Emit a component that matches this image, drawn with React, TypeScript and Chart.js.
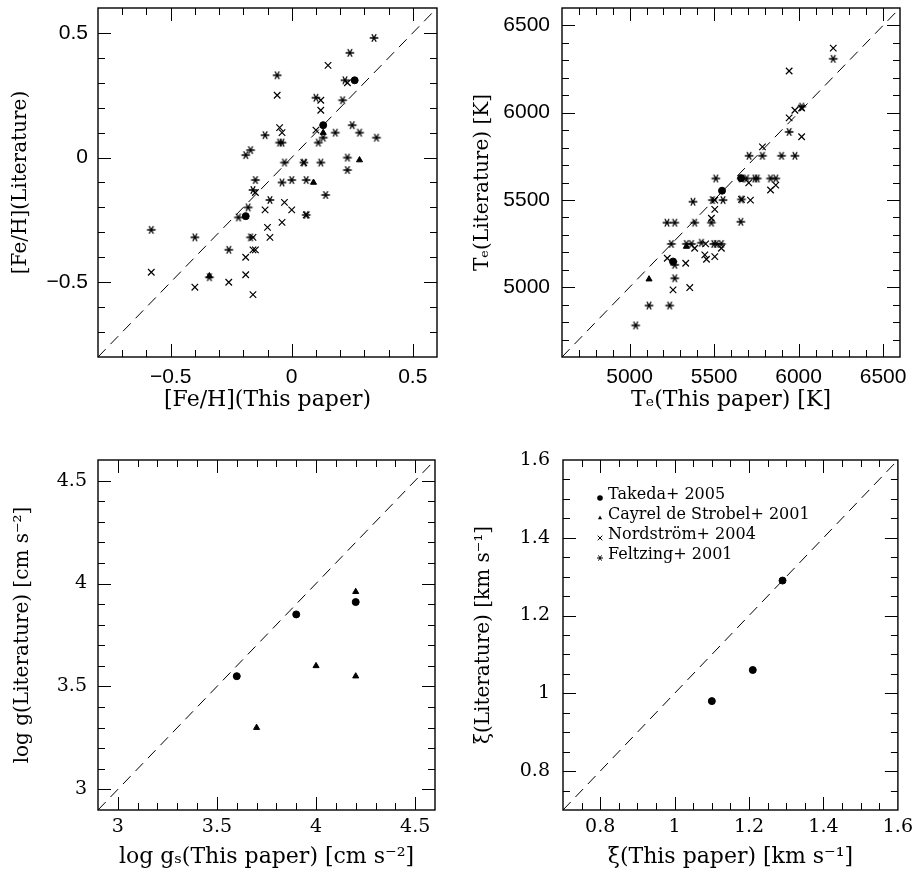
import React, { useEffect, useRef } from "react";
import { Chart, registerables } from "chart.js";
Chart.register(...registerables);

type Pt = [number, number];

// ---------- series names (legend) ----------
const seriesLabels = ["Takeda+ 2005", "Cayrel de Strobel+ 2001", "Nordström+ 2004", "Feltzing+ 2001"];

// ---------- Panel 1 : [Fe/H] ----------
const fehAxis = [-0.8, 0.6];
const fehSteps = [0.1, 0.5];
const fehTakeda: Pt[] = [[0.26, 0.31], [0.13, 0.13], [-0.19, -0.235]];
const fehCayrel: Pt[] = [[0.13, 0.10], [0.09, -0.10], [0.28, -0.01], [-0.34, -0.475]];
const fehNordstrom: Pt[] = [
  [0.15, 0.37], [0.23, 0.30], [-0.06, 0.25], [0.12, 0.23], [0.12, 0.19], [0.10, 0.11],
  [-0.05, 0.12], [-0.04, 0.10], [0.05, -0.02], [-0.15, -0.14], [-0.03, -0.18], [-0.11, -0.21],
  [0.0, -0.21], [-0.10, -0.28], [-0.04, -0.26], [-0.09, -0.32], [-0.16, -0.32], [-0.16, -0.37],
  [-0.15, -0.37], [-0.19, -0.40], [-0.58, -0.46], [-0.26, -0.50], [-0.19, -0.47], [-0.40, -0.52],
  [-0.16, -0.55], [0.06, -0.23],
];
const fehFeltzing: Pt[] = [
  [0.34, 0.48], [0.24, 0.42], [0.22, 0.31], [-0.06, 0.33], [0.10, 0.24], [0.21, 0.23],
  [0.13, 0.08], [0.11, 0.06], [0.18, 0.10], [0.25, 0.13], [0.28, 0.10], [0.35, 0.08],
  [-0.11, 0.09], [-0.05, 0.06], [-0.04, 0.06], [-0.19, 0.01], [-0.17, 0.03], [-0.03, -0.02],
  [0.05, -0.02], [0.12, -0.02], [0.23, 0.0], [0.23, -0.05], [-0.15, -0.09], [-0.04, -0.10],
  [0.0, -0.09], [0.06, -0.09], [-0.16, -0.13], [0.14, -0.15], [-0.09, -0.17], [-0.18, -0.20],
  [-0.22, -0.24], [0.06, -0.23], [-0.58, -0.29], [-0.40, -0.32], [-0.17, -0.32], [-0.26, -0.37],
  [-0.34, -0.48],
];

// ---------- Panel 2 : Teff ----------
const teffAxis = [4600, 6600];
const teffSteps = [100, 500];
const teffTakeda: Pt[] = [[5660, 5625], [5547, 5553], [5257, 5147]];
const teffCayrel: Pt[] = [[5336, 5233], [5115, 5046]];
const teffNordstrom: Pt[] = [
  [6205, 6370], [5944, 6239], [6018, 6027], [5978, 6014], [5944, 5970], [6018, 5862],
  [5786, 5804], [5705, 5598], [5865, 5585], [5834, 5557], [5504, 5499], [5662, 5503],
  [5715, 5499], [5504, 5446], [5484, 5395], [5385, 5223], [5450, 5248], [5543, 5223],
  [5445, 5185], [5455, 5160], [5504, 5175], [5223, 5166], [5332, 5137], [5257, 4985],
  [5356, 4998],
];
const teffFeltzing: Pt[] = [
  [6205, 6309], [6018, 6035], [5944, 5890], [5707, 5753], [5786, 5753], [5899, 5753],
  [5978, 5753], [5510, 5623], [5662, 5623], [5692, 5623], [5741, 5623], [5755, 5623],
  [5834, 5623], [5865, 5623], [5375, 5490], [5490, 5499], [5553, 5499], [5662, 5503],
  [5484, 5370], [5385, 5370], [5221, 5370], [5267, 5370], [5658, 5375], [5247, 5248],
  [5336, 5248], [5366, 5248], [5425, 5255], [5498, 5248], [5514, 5248], [5543, 5248],
  [5267, 5128], [5267, 5051], [5115, 4895], [5237, 4895], [5036, 4781],
];

// ---------- Panel 3 : log g ----------
const loggAxis = [2.9, 4.6];
const loggSteps = [0.1, 0.5];
const loggTakeda: Pt[] = [[3.6, 3.55], [3.9, 3.85], [4.2, 3.91]];
const loggCayrel: Pt[] = [[3.7, 3.3], [4.0, 3.6], [4.2, 3.55], [4.2, 3.96]];
const loggNordstrom: Pt[] = [];
const loggFeltzing: Pt[] = [];

// ---------- Panel 4 : microturbulence ----------
const xiAxis = [0.7, 1.6];
const xiSteps = [0.05, 0.2];
const xiTakeda: Pt[] = [[1.10, 0.98], [1.21, 1.06], [1.29, 1.29]];
const xiCayrel: Pt[] = [];
const xiNordstrom: Pt[] = [];
const xiFeltzing: Pt[] = [];

// ---------- helpers ----------
const SERIF = "'DejaVu Serif', serif";
const SANS = "'Liberation Sans', Arial, sans-serif";

function fmt(v: number): string {
  const r = Math.round(v * 1000) / 1000;
  return (r < 0 ? "\u2212" : "") + String(Math.abs(r));
}
function isMajor(v: number, major: number): boolean {
  const q = v / major;
  return Math.abs(q - Math.round(q)) < 1e-6;
}

function makeAsterisk(r: number, lw: number): HTMLCanvasElement {
  const size = Math.ceil(2 * r + lw + 2);
  const c = document.createElement("canvas");
  c.width = size;
  c.height = size;
  const g = c.getContext("2d")!;
  g.strokeStyle = "#000";
  g.lineWidth = lw;
  const cx = size / 2, cy = size / 2;
  g.beginPath();
  for (const a of [0, Math.PI / 3, -Math.PI / 3]) {
    const dx = r * Math.cos(a), dy = r * Math.sin(a);
    g.moveTo(cx - dx, cy - dy);
    g.lineTo(cx + dx, cy + dy);
  }
  g.stroke();
  return c;
}

function drawMark(ctx: CanvasRenderingContext2D, kind: number, x: number, y: number) {
  ctx.beginPath();
  if (kind === 0) {
    ctx.arc(x, y, 2.8, 0, Math.PI * 2);
    ctx.fill();
  } else if (kind === 1) {
    const s = 2.4;
    ctx.moveTo(x, y - s);
    ctx.lineTo(x + s * 0.87, y + s * 0.5);
    ctx.lineTo(x - s * 0.87, y + s * 0.5);
    ctx.closePath();
    ctx.fill();
  } else if (kind === 2) {
    const d = 2.3;
    ctx.moveTo(x - d, y - d); ctx.lineTo(x + d, y + d);
    ctx.moveTo(x - d, y + d); ctx.lineTo(x + d, y - d);
    ctx.stroke();
  } else {
    const r = 3;
    for (const a of [0, Math.PI / 3, -Math.PI / 3]) {
      const dx = r * Math.cos(a), dy = r * Math.sin(a);
      ctx.moveTo(x - dx, y - dy); ctx.lineTo(x + dx, y + dy);
    }
    ctx.stroke();
  }
}

function tickValues(lo: number, hi: number, step: number): number[] {
  const out: number[] = [];
  const n = Math.round((hi - lo) / step);
  for (let k = 0; k <= n; k++) out.push(Math.round((lo + k * step) * 1e6) / 1e6);
  return out;
}

const frameTicks = {
  id: "frameTicks",
  afterDraw(chart: any, _a: any, opts: any) {
    const { ctx, chartArea: a, scales } = chart;
    const vals = tickValues(opts.lo, opts.hi, opts.minor);
    ctx.save();
    ctx.strokeStyle = "#000";
    ctx.lineWidth = 1;
    ctx.beginPath();
    for (const v of vals) {
      const len = isMajor(v, opts.major) ? 13 : 7;
      const px = Math.round(scales.x.getPixelForValue(v)) + 0.5;
      if (px > a.left + 1 && px < a.right - 1) {
        ctx.moveTo(px, a.bottom); ctx.lineTo(px, a.bottom - len);
        ctx.moveTo(px, a.top); ctx.lineTo(px, a.top + len);
      }
      const py = Math.round(scales.y.getPixelForValue(v)) + 0.5;
      if (py > a.top + 1 && py < a.bottom - 1) {
        ctx.moveTo(a.left, py); ctx.lineTo(a.left + len, py);
        ctx.moveTo(a.right, py); ctx.lineTo(a.right - len, py);
      }
    }
    ctx.stroke();
    ctx.lineWidth = 1.4;
    ctx.strokeRect(a.left, a.top, a.right - a.left, a.bottom - a.top);
    if (opts.legend) {
      ctx.fillStyle = "#000";
      ctx.lineWidth = 1;
      ctx.font = "16px " + SERIF;
      ctx.textBaseline = "middle";
      ctx.textAlign = "left";
      seriesLabels.forEach((lab, i) => {
        const y = a.top + 35 + i * 20;
        drawMark(ctx, i, a.left + 37, y + 3);
        ctx.fillText(lab, a.left + 45, y);
      });
    }
    ctx.restore();
  },
};

interface PanelSpec {
  left: number; top: number; w: number; h: number;
  pad: { top: number; right: number; bottom: number };
  yAxisW: number; xAxisH: number;
  axis: number[]; steps: number[];
  series: Pt[][];
  xTitle: string; yTitle: string;
  tickFont: { family: string; size: number };
  xTickPad: number; yTickPad: number;
  xTitlePad: number; yTitlePad: number;
  legend: boolean;
}

const TOP_TICK = { family: SANS, size: 21 };
const BOT_TICK = { family: SERIF, size: 19 };

const panels: PanelSpec[] = [
  {
    left: 0, top: -20, w: 460, h: 447, pad: { top: 28, right: 23, bottom: 5 }, yAxisW: 98, xAxisH: 65,
    axis: fehAxis, steps: fehSteps, series: [fehTakeda, fehCayrel, fehNordstrom, fehFeltzing],
    xTitle: "[Fe/H](This paper)", yTitle: "[Fe/H](Literature)", tickFont: TOP_TICK,
    xTickPad: 8, yTickPad: 10, xTitlePad: 9, yTitlePad: 9, legend: false,
  },
  {
    left: 460, top: -20, w: 459, h: 447, pad: { top: 28, right: 19, bottom: 5 }, yAxisW: 102, xAxisH: 65,
    axis: teffAxis, steps: teffSteps, series: [teffTakeda, teffCayrel, teffNordstrom, teffFeltzing],
    xTitle: "T\u2091(This paper) [K]", yTitle: "T\u2091(Literature) [K]", tickFont: TOP_TICK,
    xTickPad: 8, yTickPad: 12, xTitlePad: 9, yTitlePad: 11, legend: false,
  },
  {
    left: 0, top: 430, w: 460, h: 446, pad: { top: 30, right: 25, bottom: 6 }, yAxisW: 98, xAxisH: 60,
    axis: loggAxis, steps: loggSteps, series: [loggTakeda, loggCayrel, loggNordstrom, loggFeltzing],
    xTitle: "log g\u209B(This paper) [cm s\u207B\u00B2]", yTitle: "log g(Literature) [cm s\u207B\u00B2]", tickFont: BOT_TICK,
    xTickPad: 6, yTickPad: 11, xTitlePad: 0, yTitlePad: 11, legend: false,
  },
  {
    left: 460, top: 430, w: 459, h: 446, pad: { top: 30, right: 19, bottom: 6 }, yAxisW: 103, xAxisH: 60,
    axis: xiAxis, steps: xiSteps, series: [xiTakeda, xiCayrel, xiNordstrom, xiFeltzing],
    xTitle: "\u03BE(This paper) [km s\u207B\u00B9]", yTitle: "\u03BE(Literature) [km s\u207B\u00B9]", tickFont: BOT_TICK,
    xTickPad: 6, yTickPad: 13, xTitlePad: 0, yTitlePad: 12, legend: true,
  },
];

const toPts = (a: Pt[]) => a.map(([x, y]) => ({ x, y }));

function buildConfig(s: PanelSpec, asterisk: HTMLCanvasElement): any {
  const [lo, hi] = s.axis;
  const [minor, major] = s.steps;
  const tickCb = (v: number) => (isMajor(v, major) ? fmt(v) : null);
  const titleFont = { family: SERIF, size: 22 };
  const axisCommon = {
    type: "linear",
    min: lo,
    max: hi,
    grid: { display: false, drawTicks: false },
    border: { display: false },
  };
  return {
    type: "scatter",
    data: {
      datasets: [
        {
          label: "diagonal",
          data: [{ x: lo, y: lo }, { x: hi, y: hi }],
          showLine: true,
          borderColor: "#000",
          borderWidth: 1,
          borderDash: [11, 7],
          pointRadius: 0,
          fill: false,
        },
        {
          label: seriesLabels[0], data: toPts(s.series[0]), pointStyle: "circle",
          pointRadius: 3.5, borderWidth: 1, backgroundColor: "#000", borderColor: "#000",
        },
        {
          label: seriesLabels[1], data: toPts(s.series[1]), pointStyle: "triangle",
          pointRadius: 3.5, borderWidth: 1, backgroundColor: "#000", borderColor: "#000",
        },
        {
          label: seriesLabels[2], data: toPts(s.series[2]), pointStyle: "crossRot",
          pointRadius: 4.6, borderWidth: 1.2, backgroundColor: "#000", borderColor: "#000",
        },
        {
          label: seriesLabels[3], data: toPts(s.series[3]), pointStyle: asterisk,
          pointRadius: 4.5, borderWidth: 1, backgroundColor: "#000", borderColor: "#000",
        },
      ],
    },
    options: {
      animation: false,
      responsive: false,
      events: [],
      layout: { padding: { left: 0, top: s.pad.top, right: s.pad.right, bottom: s.pad.bottom } },
      plugins: {
        legend: { display: false },
        tooltip: { enabled: false },
        frameTicks: { lo, hi, minor, major, legend: s.legend },
      },
      scales: {
        x: {
          ...axisCommon,
          position: "bottom",
          ticks: {
            stepSize: minor, autoSkip: false, maxRotation: 0, minRotation: 0,
            padding: s.xTickPad, color: "#000", font: s.tickFont, callback: tickCb,
          },
          title: {
            display: true, text: s.xTitle, color: "#000", font: titleFont,
            padding: { top: 0, bottom: s.xTitlePad },
          },
          afterFit: (sc: any) => { sc.height = s.xAxisH; },
        },
        y: {
          ...axisCommon,
          position: "left",
          ticks: {
            stepSize: minor, autoSkip: false,
            padding: s.yTickPad, color: "#000", font: s.tickFont, callback: tickCb,
          },
          title: {
            display: true, text: s.yTitle, color: "#000", font: { family: SERIF, size: 20 },
            padding: { top: s.yTitlePad, bottom: 0 },
          },
          afterFit: (sc: any) => { sc.width = s.yAxisW; },
        },
      },
    },
    plugins: [frameTicks],
  };
}

function Panel({ spec }: { spec: PanelSpec }) {
  const ref = useRef<HTMLCanvasElement>(null);
  useEffect(() => {
    const asterisk = makeAsterisk(4.3, 1.35);
    const chart = new Chart(ref.current!, buildConfig(spec, asterisk));
    return () => chart.destroy();
  }, [spec]);
  return (
    <canvas
      ref={ref}
      width={spec.w}
      height={spec.h}
      style={{ position: "absolute", left: spec.left, top: spec.top, width: spec.w, height: spec.h }}
    />
  );
}

export default function App() {
  return (
    <div
      style={{
        position: "absolute", left: 0, top: 0, width: 919, height: 876,
        overflow: "hidden", background: "#fff",
      }}
    >
      {panels.map((p, i) => (
        <Panel key={i} spec={p} />
      ))}
    </div>
  );
}
